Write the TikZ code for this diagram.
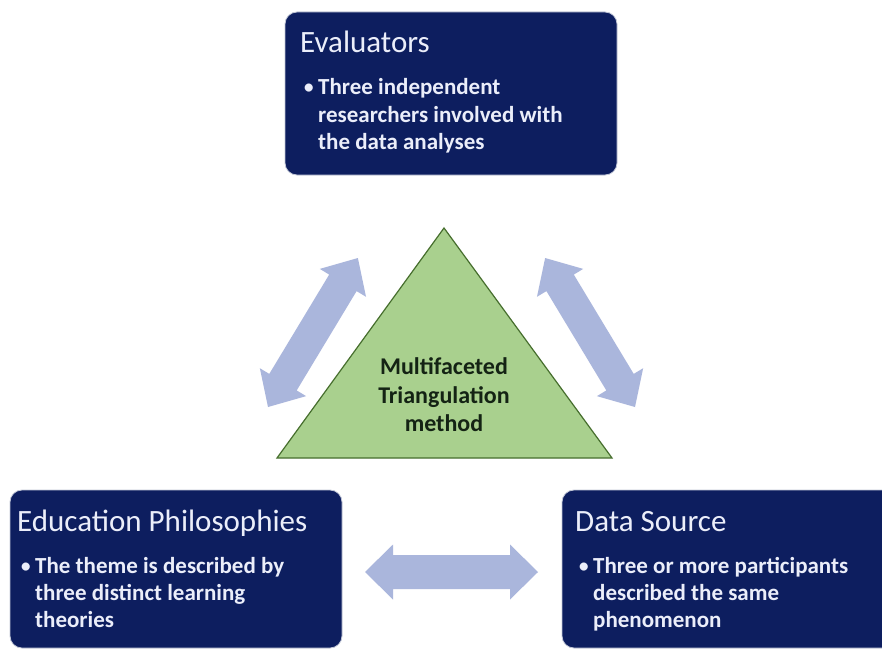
\documentclass[tikz,border=0pt]{standalone}
\usepackage{fontspec}
\setmainfont{Carlito}
\definecolor{navy}{RGB}{13,30,95}
\definecolor{arrowblue}{RGB}{170,182,220}
\definecolor{trigreen}{RGB}{169,208,142}
\definecolor{triedge}{RGB}{70,110,45}
\definecolor{titlewhite}{RGB}{235,238,250}
\definecolor{tritextcol}{RGB}{20,35,20}
\begin{document}
\begin{tikzpicture}[x=1pt,y=-1pt,
  box/.style={draw=white!75!navy, line width=0.8pt, fill=navy, rounded corners=12pt, minimum width=332pt, inner sep=0pt},
  boxtitle/.style={anchor=base west, inner sep=0pt, text=titlewhite, font=\fontsize{31}{36}\selectfont},
  bodytext/.style={anchor=base west, inner sep=0pt, text=titlewhite, font=\bfseries\fontsize{23}{27}\selectfont},
  bul/.style={anchor=base west, inner sep=0pt, text=titlewhite, font=\fontsize{23}{27}\selectfont},
  blockarrow/.style={fill=arrowblue},
  tri/.style={fill=trigreen, draw=triedge, line width=1.2pt, line join=miter}
]
\useasboundingbox (0,0) rectangle (882,650);
\clip (0,0) rectangle (882,650);
\fill[white] (0,0) rectangle (882,650);

% boxes
\node[box, minimum height=163pt] (evalbox) at (451,93.5) {};
\node[box, minimum height=158pt] (edubox) at (176,569) {};
\node[box, minimum height=158pt] (databox) at (728,569) {};

% Evaluators
\node[boxtitle] (evt) at (300,53) {Evaluators};
\node[bul] (evb) at (303,95) {\textbullet};
\node[bodytext] (ev1) at (318,95) {Three independent};
\node[bodytext] (ev2) at (318,122) {researchers involved with};
\node[bodytext] (ev3) at (318,149) {the data analyses};

% Education Philosophies
\node[boxtitle] (edt) at (17,531) {Education Philosophies};
\node[bul] (edb) at (20,573) {\textbullet};
\node[bodytext] (ed1) at (35,573) {The theme is described by};
\node[bodytext] (ed2) at (35,600) {three distinct learning};
\node[bodytext] (ed3) at (35,627) {theories};

% Data Source
\node[boxtitle] (dst) at (575,531) {Data Source};
\node[bul] (dsb) at (578,573) {\textbullet};
\node[bodytext] (ds1) at (593,573) {Three or more participants};
\node[bodytext] (ds2) at (593,600) {described the same};
\node[bodytext] (ds3) at (593,627) {phenomenon};

% triangle
\coordinate (apex) at (444,228);
\coordinate (bl) at (277,458);
\coordinate (br) at (612,458);
\draw[tri] (apex) -- (br) -- (bl) -- cycle;
\node[align=center, inner sep=0pt, text=tritextcol, font=\bfseries\fontsize{24}{28.5}\selectfont] (tritext) at (444,395) {Multifaceted\\Triangulation\\method};

% block arrows
\begin{scope}[shift={(268,407)}, rotate=58.9]
  \fill[blockarrow] (0,0) -- (29,27) -- (29,16) -- (145,16) -- (145,27) -- (174,0) -- (145,-27) -- (145,-16) -- (29,-16) -- (29,-27) -- cycle;
\end{scope}
\begin{scope}[shift={(635,407)}, rotate=121.1]
  \fill[blockarrow] (0,0) -- (29,27) -- (29,16) -- (145,16) -- (145,27) -- (174,0) -- (145,-27) -- (145,-16) -- (29,-16) -- (29,-27) -- cycle;
\end{scope}
\begin{scope}[shift={(365,572)}]
  \fill[blockarrow] (0,0) -- (28,27.5) -- (28,17) -- (145,17) -- (145,27.5) -- (173,0) -- (145,-27.5) -- (145,-17) -- (28,-17) -- (28,-27.5) -- cycle;
\end{scope}
\end{tikzpicture}
\end{document}
